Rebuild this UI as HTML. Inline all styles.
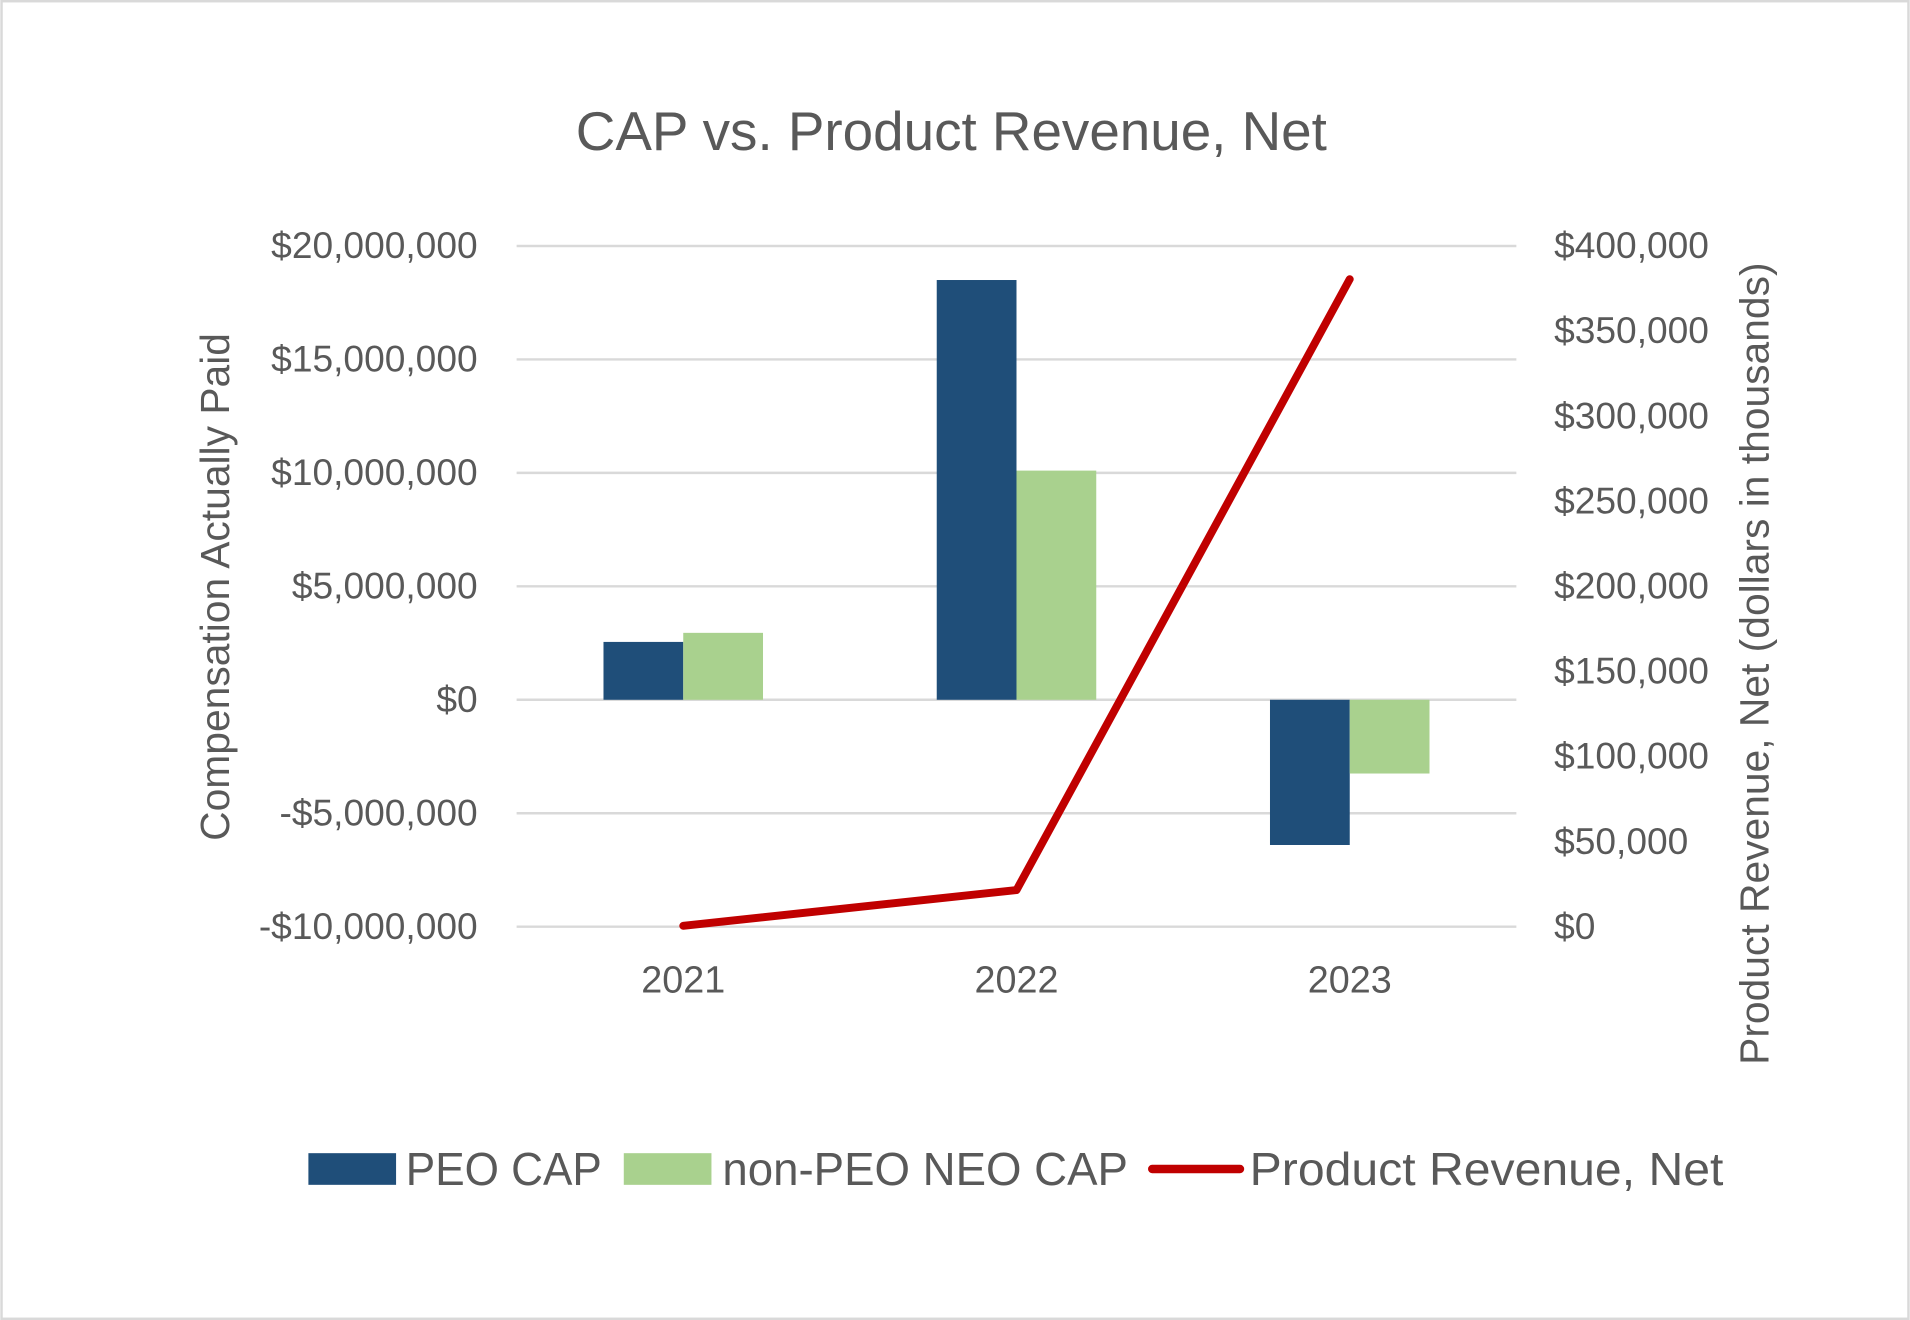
<!DOCTYPE html>
<html><head><meta charset="utf-8"><style>
html,body{margin:0;padding:0;background:#fff;}
svg{display:block;font-family:"Liberation Sans",Arial,sans-serif;}
</style></head><body>
<svg id="chart" width="1910" height="1320" viewBox="0 0 1568 1084" xmlns="http://www.w3.org/2000/svg">
<rect x="1" y="1" width="1566" height="1082" fill="#fff" stroke="#d9d9d9" stroke-width="2"/>
<text x="781" y="123" text-anchor="middle" font-size="45" fill="#595959">CAP vs. Product Revenue, Net</text>
<g id="grid"></g>
<g id="bars"></g>
<g id="line"></g>
<g id="axes"></g>
<text transform="translate(188,482) rotate(-90)" text-anchor="middle" font-size="33.5" fill="#595959">Compensation Actually Paid</text>
<text transform="translate(1452,545) rotate(-90)" text-anchor="middle" font-size="33.5" fill="#595959">Product Revenue, Net (dollars in thousands)</text>
<g>
<rect x="253" y="947" width="72" height="26" fill="#1f4e79"/>
<text x="333" y="973" font-size="38" fill="#595959" textLength="161" lengthAdjust="spacingAndGlyphs">PEO CAP</text>
<rect x="512" y="947" width="72" height="26" fill="#a9d18e"/>
<text x="593" y="973" font-size="38" fill="#595959" textLength="333" lengthAdjust="spacingAndGlyphs">non-PEO NEO CAP</text>
<line x1="946" y1="960" x2="1018" y2="960" stroke="#c00000" stroke-width="7" stroke-linecap="round"/>
<text x="1026" y="973" font-size="38" fill="#595959" textLength="389" lengthAdjust="spacingAndGlyphs">Product Revenue, Net</text>
</g>
</svg>
<script>
const categories = ['2021','2022','2023'];
const peoCap = [2550000, 18500000, -6400000];
const nonPeoCap = [2950000, 10100000, -3250000];
const revenue = [500, 21500, 380500];
const leftTicks = [-10000000,-5000000,0,5000000,10000000,15000000,20000000];
const leftTickLabels = ['-$10,000,000','-$5,000,000','$0','$5,000,000','$10,000,000','$15,000,000','$20,000,000'];
const rightTicks = [0,50000,100000,150000,200000,250000,300000,350000,400000];
const rightTickLabels = ['$0','$50,000','$100,000','$150,000','$200,000','$250,000','$300,000','$350,000','$400,000'];

const NS='http://www.w3.org/2000/svg';
const plotL=424, plotR=1245, plotT=202, plotB=761;
function yL(v){return plotB-(v-(-10000000))/30000000*(plotB-plotT);}
function yR(v){return plotB-v/400000*(plotB-plotT);}
const band=(plotR-plotL)/categories.length;
function xC(i){return plotL+band*(i+0.5);}
const barW=65.5;
function mk(tag,attrs,parent){const e=document.createElementNS(NS,tag);for(const k in attrs)e.setAttribute(k,attrs[k]);parent.appendChild(e);return e;}
const grid=document.getElementById('grid'), axes=document.getElementById('axes'), bars=document.getElementById('bars'), lineG=document.getElementById('line');
leftTicks.forEach((t,i)=>{
  const l=mk('line',{x1:plotL,x2:plotR,y1:yL(t),y2:yL(t),stroke:'#d9d9d9','stroke-width':2},grid);
  
  
  const tx=mk('text',{x:392,y:yL(t)+10,'text-anchor':'end','font-size':30.5,fill:'#595959'},axes);
  tx.textContent=leftTickLabels[i];
  
  
});
rightTicks.forEach((t,i)=>{
  const tx=mk('text',{x:1276,y:yR(t)+10,'text-anchor':'start','font-size':30.5,fill:'#595959'},axes);
  tx.textContent=rightTickLabels[i];
  
  
});
categories.forEach((c,i)=>{
  const tx=mk('text',{x:xC(i),y:815,'text-anchor':'middle','font-size':31,fill:'#595959'},axes);
  tx.textContent=c;
  
  
  const y0=yL(0);
  const y1=yL(peoCap[i]);
  const b1=mk('rect',{x:xC(i)-barW,y:Math.min(y0,y1),width:barW,height:Math.abs(y1-y0),fill:'#1f4e79'},bars);
  
  
  const y2=yL(nonPeoCap[i]);
  const b2=mk('rect',{x:xC(i),y:Math.min(y0,y2),width:barW,height:Math.abs(y2-y0),fill:'#a9d18e'},bars);
  
  
});
const pts=revenue.map((v,i)=>xC(i)+','+yR(v)).join(' ');
const pl=mk('polyline',{points:pts,fill:'none',stroke:'#c00000','stroke-width':6.5,'stroke-linecap':'round','stroke-linejoin':'round'},lineG);


</script>
</body></html>
